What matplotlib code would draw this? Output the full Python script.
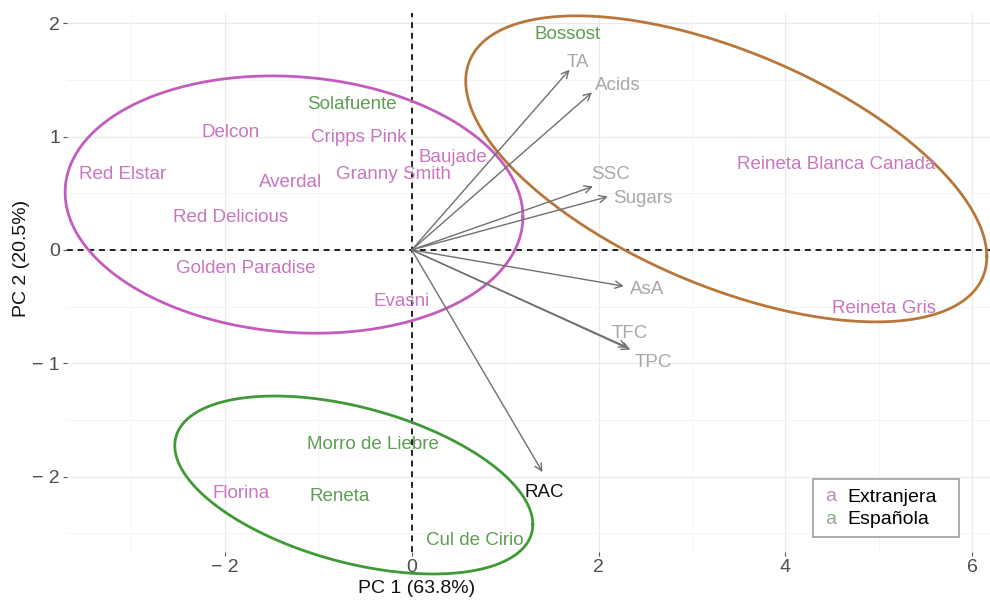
import numpy as np
import matplotlib
matplotlib.use("Agg")
import matplotlib.pyplot as plt
from matplotlib.lines import Line2D
from matplotlib.legend_handler import HandlerBase
from matplotlib.text import Text

plt.rcParams['font.family'] = ['Liberation Sans', 'DejaVu Sans']

# --- sample scores (PC1, PC2) and origin group ---
samples = ["Bossost", "Solafuente", "Delcon", "Cripps Pink", "Baujade", "Red Elstar",
           "Averdal", "Granny Smith", "Red Delicious", "Golden Paradise", "Evasni",
           "Reineta Blanca Canada", "Reineta Gris", "Morro de Liebre", "Florina",
           "Reneta", "Cul de Cirio"]
pc1 = [1.67, -0.64, -1.94, -0.57, 0.44, -3.09, -1.30, -0.19, -1.94, -1.78, -0.11,
       4.54, 5.06, -0.41, -1.83, -0.77, 0.68]
pc2 = [1.92, 1.30, 1.05, 1.01, 0.83, 0.68, 0.61, 0.68, 0.30, -0.15, -0.44,
       0.77, -0.50, -1.70, -2.13, -2.16, -2.55]
origin = ["Española", "Española", "Extranjera", "Extranjera", "Extranjera", "Extranjera",
          "Extranjera", "Extranjera", "Extranjera", "Extranjera", "Extranjera",
          "Extranjera", "Extranjera", "Española", "Extranjera", "Española", "Española"]

# --- variable loadings (arrow tips) and label positions ---
variables = ["TA", "Acids", "SSC", "Sugars", "AsA", "TFC", "TPC", "RAC"]
load1 = [1.69, 1.93, 1.94, 2.10, 2.27, 2.31, 2.34, 1.40]
load2 = [1.59, 1.39, 0.56, 0.47, -0.32, -0.86, -0.88, -1.96]
lab1 = [1.78, 2.21, 2.13, 2.47, 2.52, 2.33, 2.59, 1.42]
lab2 = [1.67, 1.47, 0.68, 0.47, -0.33, -0.72, -0.98, -2.12]
var_colors = ["#A8A8A8"] * 7 + ["#111111"]

# --- cluster ellipses: center, sd x, sd y, covariance ---
ell_cx = [-1.26, 3.367, -0.62]
ell_cy = [0.40, 0.715, -2.074]
ell_sx = [2.45, 2.789, 1.916]
ell_sy = [1.135, 1.35, 0.785]
ell_cov = [-0.265, -2.16, -0.666]
ell_colors = ["#C35CBD", "#B8773A", "#3F9A35"]

group_colors = {"Extranjera": "#C776BF", "Española": "#5E9E52"}
legend_groups = ["Extranjera", "Española"]
legend_key_colors = ["#B590B2", "#8DAA8A"]

x_ticks = [-2, 0, 2, 4, 6]
y_ticks = [-2, -1, 0, 1, 2]


class TextKeyHandler(HandlerBase):
    def create_artists(self, legend, orig_handle, xdescent, ydescent, width,
                       height, fontsize, trans):
        t = Text(x=width/2 - xdescent, y=height/2 - ydescent, text='a',
                 color=orig_handle.get_color(), fontsize=fontsize,
                 ha='center', va='center_baseline', transform=trans)
        return [t]


fig = plt.figure(figsize=(9.9, 6.04), dpi=100)
ax = fig.add_axes([67/990, 1-552/604, (990-67)/990, (552-13)/604])
ax.set_xlim(-3.69, 6.19)
ax.set_ylim(-2.665, 2.09)

for s in ax.spines.values():
    s.set_visible(False)

ax.set_xticks(x_ticks)
ax.set_yticks(y_ticks)
ax.set_xticks([-3, -1, 1, 3, 5], minor=True)
ax.set_yticks([-2.5, -1.5, -0.5, 0.5, 1.5], minor=True)
fmt = lambda v: ("\u2212 " + str(abs(v))) if v < 0 else str(v)
ax.set_xticklabels([fmt(v) for v in x_ticks])
ax.set_yticklabels([fmt(v) for v in y_ticks])
ax.tick_params(axis='both', which='major', length=3, width=0.8, color='#555555',
               labelsize=14, labelcolor='#4D4D4D', pad=2)
ax.tick_params(axis='both', which='minor', length=0)
ax.grid(which='major', color='#EBEBEB', lw=0.9)
ax.grid(which='minor', color='#F4F4F4', lw=0.7)
ax.set_axisbelow(True)

ax.axhline(0, color='#222222', lw=1.4, ls=(0, (3, 2.5)), zorder=2)
ax.axvline(0, color='#222222', lw=1.4, ls=(0, (3, 2.5)), zorder=2)

# ellipses
t = np.linspace(0, 2*np.pi, 400)
for cx, cy, sx, sy, cv, col in zip(ell_cx, ell_cy, ell_sx, ell_sy, ell_cov, ell_colors):
    l21 = cv / sx
    l22 = np.sqrt(sy**2 - l21**2)
    ex = cx + sx*np.cos(t)
    ey = cy + l21*np.cos(t) + l22*np.sin(t)
    ax.plot(ex, ey, color=col, lw=2.0, clip_on=False, zorder=3)

# arrows
for x1, y1 in zip(load1, load2):
    ax.annotate('', xy=(x1, y1), xytext=(0, 0),
                arrowprops=dict(arrowstyle='->', color='#707070', lw=1.0,
                                mutation_scale=13, shrinkA=0, shrinkB=0), zorder=4)
for name, x1, y1, c in zip(variables, lab1, lab2, var_colors):
    ax.text(x1, y1, name, color=c, fontsize=13.5, ha='center',
            va='center_baseline', zorder=5)

# sample labels
for name, x1, y1, g in zip(samples, pc1, pc2, origin):
    ax.text(x1, y1, name, color=group_colors[g], fontsize=13.5, ha='center',
            va='center_baseline', zorder=5)

ax.set_xlabel("PC 1 (63.8%)", fontsize=14, color='#111111')
ax.set_ylabel("PC 2 (20.5%)", fontsize=14, color='#111111')
ax.xaxis.set_label_coords(0.379, -0.067)
ax.yaxis.set_label_coords(-0.049, 0.544)
ax.xaxis.label.set_va('center')
ax.yaxis.label.set_va('center')

handles = [Line2D([], [], color=c) for c in legend_key_colors]
leg = ax.legend(handles, legend_groups, loc='lower left', mode='expand',
                handler_map={Line2D: TextKeyHandler()},
                bbox_to_anchor=(0.808, 0.028, 0.158, 0.111), fontsize=14,
                frameon=True, fancybox=False, edgecolor='#A0A0A0', framealpha=1,
                handlelength=0.9, handletextpad=0.42, borderpad=0.45,
                labelspacing=0.25, borderaxespad=0)
leg.get_frame().set_linewidth(1.2)

fig.savefig("out.png", dpi=100)
